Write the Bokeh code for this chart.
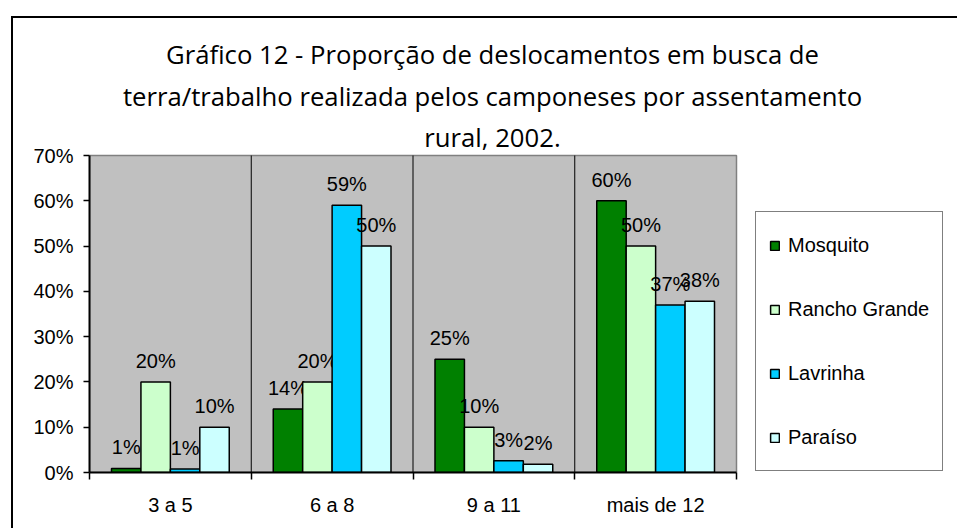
import numpy as np
from bokeh.plotting import figure
from bokeh.models import (Range1d, FixedTicker, NumeralTickFormatter, Label,
                          Legend, LegendItem)
from bokeh.core.properties import value
from bokeh.embed import file_html
from bokeh.resources import INLINE

# ---- data ----
categories = ["3 a 5", "6 a 8", "9 a 11", "mais de 12"]
series = ["Mosquito", "Rancho Grande", "Lavrinha", "Paraíso"]
mosquito = [0.009, 0.14, 0.25, 0.60]
rancho_grande = [0.20, 0.20, 0.10, 0.50]
lavrinha = [0.008, 0.59, 0.026, 0.37]
paraiso = [0.10, 0.50, 0.018, 0.378]
colors = ["#008000", "#CCFFCC", "#00CCFF", "#CCFFFF"]
y_ticks = [0.0, 0.1, 0.2, 0.3, 0.4, 0.5, 0.6, 0.7]
title_lines = [
    "Gráfico 12 - Proporção de deslocamentos em busca de",
    "terra/trabalho realizada pelos camponeses por assentamento",
    "rural, 2002.",
]

values = [mosquito, rancho_grande, lavrinha, paraiso]
ARIAL = "Liberation Sans"
FS = "20px"

# ---- layout geometry (pixels) ----
W, H = 946, 512
BL, BB = 76, 58                 # left / bottom borders (axes)
AREA_W, AREA_H = 647, 317       # size of the grey plotting area
frame_w, frame_h = W - BL, H - BB
n = len(categories)
ymax = y_ticks[-1]
x_end = n * frame_w / AREA_W
y_end = ymax * frame_h / AREA_H

p = figure(width=W, height=H, x_range=Range1d(0, x_end), y_range=Range1d(0, y_end),
           output_backend="svg", toolbar_location=None,
           min_border_left=BL, min_border_right=0, min_border_top=0,
           min_border_bottom=BB)
p.margin = (16, 0, 0, 11)
p.styles = {"border-left": "2px solid black", "border-top": "2px solid black"}

p.background_fill_color = "white"
p.border_fill_color = "white"
p.outline_line_color = None
p.xgrid.visible = False
p.ygrid.visible = False

# grey plotting area
p.quad(left=0, right=n, bottom=0, top=ymax, fill_color="#C0C0C0",
       line_color="#808080", line_width=1.5)
p.segment(x0=list(range(1, n)), y0=[0] * (n - 1), x1=list(range(1, n)),
          y1=[ymax] * (n - 1), line_color="black", line_width=1)

centers = [i + 0.5 for i in range(n)]
xa = p.xaxis[0]
xa.bounds = (0, n)
xa.ticker = FixedTicker(ticks=centers, minor_ticks=list(range(n + 1)))
xa.major_label_overrides = {c: cat for c, cat in zip(centers, categories)}
xa.major_tick_out = 0
xa.major_tick_in = 0
xa.minor_tick_out = 7
xa.minor_tick_in = 0
xa.minor_tick_line_color = "black"
xa.minor_tick_line_width = 1.5
xa.axis_line_color = "black"
xa.axis_line_width = 2
xa.major_label_text_font = ARIAL
xa.major_label_text_font_size = FS
xa.major_label_text_color = "black"
xa.major_label_standoff = 14

ya = p.yaxis[0]
ya.bounds = (0, ymax)
ya.ticker = FixedTicker(ticks=y_ticks)
ya.formatter = NumeralTickFormatter(format="0%")
ya.major_tick_out = 6
ya.major_tick_in = 0
ya.major_tick_line_width = 1.5
ya.minor_tick_line_color = None
ya.axis_line_color = "black"
ya.axis_line_width = 2
ya.major_label_text_font = ARIAL
ya.major_label_text_font_size = FS
ya.major_label_text_color = "black"
ya.major_label_standoff = 10

bw = 0.182
items = []
for j, (name, vals, col) in enumerate(zip(series, values, colors)):
    xs = np.array(centers) + (j - 1.5) * bw
    r = p.vbar(x=xs, top=vals, bottom=0, width=bw, fill_color=col,
               line_color="black", line_width=1.5)
    p.text(x=xs, y=vals, text=[f"{v * 100:.0f}%" for v in vals],
           text_align="center", text_baseline="alphabetic", y_offset=-21,
           text_font=value(ARIAL), text_font_size=FS, text_color="black")
    items.append(LegendItem(label=name, renderers=[r]))

legend = Legend(items=items, location=(666, 1), border_line_color="black",
                border_line_width=1.5, background_fill_color="white",
                background_fill_alpha=1, padding=13, spacing=24, label_height=40,
                glyph_height=11, glyph_width=11, label_standoff=8, margin=0,
                label_text_font=ARIAL, label_text_font_size=FS,
                label_text_color="black")
p.add_layout(legend)

for k, line in enumerate(title_lines):
    p.add_layout(Label(x=477, y=34 + 41.5 * k, x_units="canvas", y_units="canvas",
                       text=line, text_align="center", text_baseline="alphabetic",
                       text_font="Open Sans", text_font_size="25.7px",
                       text_color="black"))

open("out.html", "w").write(file_html(p, INLINE))
